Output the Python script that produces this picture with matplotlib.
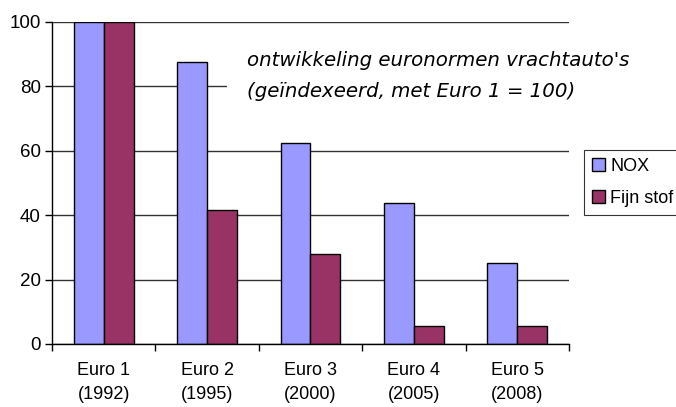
import matplotlib.pyplot as plt
from matplotlib.patches import Rectangle
import numpy as np

# data
categories = ["Euro 1\n(1992)", "Euro 2\n(1995)", "Euro 3\n(2000)", "Euro 4\n(2005)", "Euro 5\n(2008)"]
nox = [100, 87.5, 62.5, 43.75, 25]
fijn_stof = [100, 41.7, 27.8, 5.6, 5.6]
series_labels = ["NOX", "Fijn stof"]
yticks = [0, 20, 40, 60, 80, 100]

plt.rcParams['font.family'] = ['Liberation Sans', 'DejaVu Sans']

fig = plt.figure(figsize=(6.76, 4.07), dpi=100)
ax = fig.add_axes([0.0769, 0.1548, 0.7648, 0.7912])

x = np.arange(len(categories))
w = 0.29
ax.bar(x - w / 2, nox, w, color="#9999FF", edgecolor="black", linewidth=1.0,
       label=series_labels[0], zorder=2)
ax.bar(x + w / 2, fijn_stof, w, color="#993366", edgecolor="black", linewidth=1.0,
       label=series_labels[1], zorder=2)

ax.set_xlim(-0.5, len(categories) - 0.5)
ax.set_ylim(0, 100)
ax.set_yticks(yticks)
ax.tick_params(axis='y', labelsize=13.5, length=5, width=1, pad=3)

# category ticks between groups, labels centred
ax.set_xticks(np.arange(-0.5, len(categories), 1))
ax.set_xticklabels([])
ax.set_xticks(x, minor=True)
ax.set_xticklabels(categories, minor=True, fontsize=13, linespacing=1.55)
ax.tick_params(axis='x', which='major', length=5, width=1)
ax.tick_params(axis='x', which='minor', length=0, pad=13)

ax.yaxis.grid(True, color="#333333", linewidth=1.0, zorder=0)
ax.set_axisbelow(True)
for s in ["top", "right"]:
    ax.spines[s].set_visible(False)
ax.spines["left"].set_linewidth(1.0)
ax.spines["bottom"].set_linewidth(1.0)

# white box behind the caption hides part of the 80 gridline
ax.add_patch(Rectangle((227 / 676, 1 - 118 / 407), 420 / 676, 78 / 407,
                       transform=fig.transFigure, facecolor='white',
                       edgecolor='none', zorder=1, clip_on=False))
ax.text(0.377, 0.833, "ontwikkeling euronormen vrachtauto's\n(geïndexeerd, met Euro 1 = 100)",
        transform=ax.transAxes, family=['DejaVu Sans'], style='italic',
        fontsize=14.2, va='center', ha='left', linespacing=1.8, zorder=4)

leg = ax.legend(loc='upper left', bbox_to_anchor=(584 / 676, 1 - 150 / 407),
                bbox_transform=fig.transFigure, fontsize=13, frameon=True,
                fancybox=False, edgecolor="black", handlelength=0.7, handleheight=0.7,
                handletextpad=0.3, borderpad=0.45, labelspacing=0.8, borderaxespad=0)
leg.get_frame().set_linewidth(0.8)

fig.savefig("out.png", dpi=100)
